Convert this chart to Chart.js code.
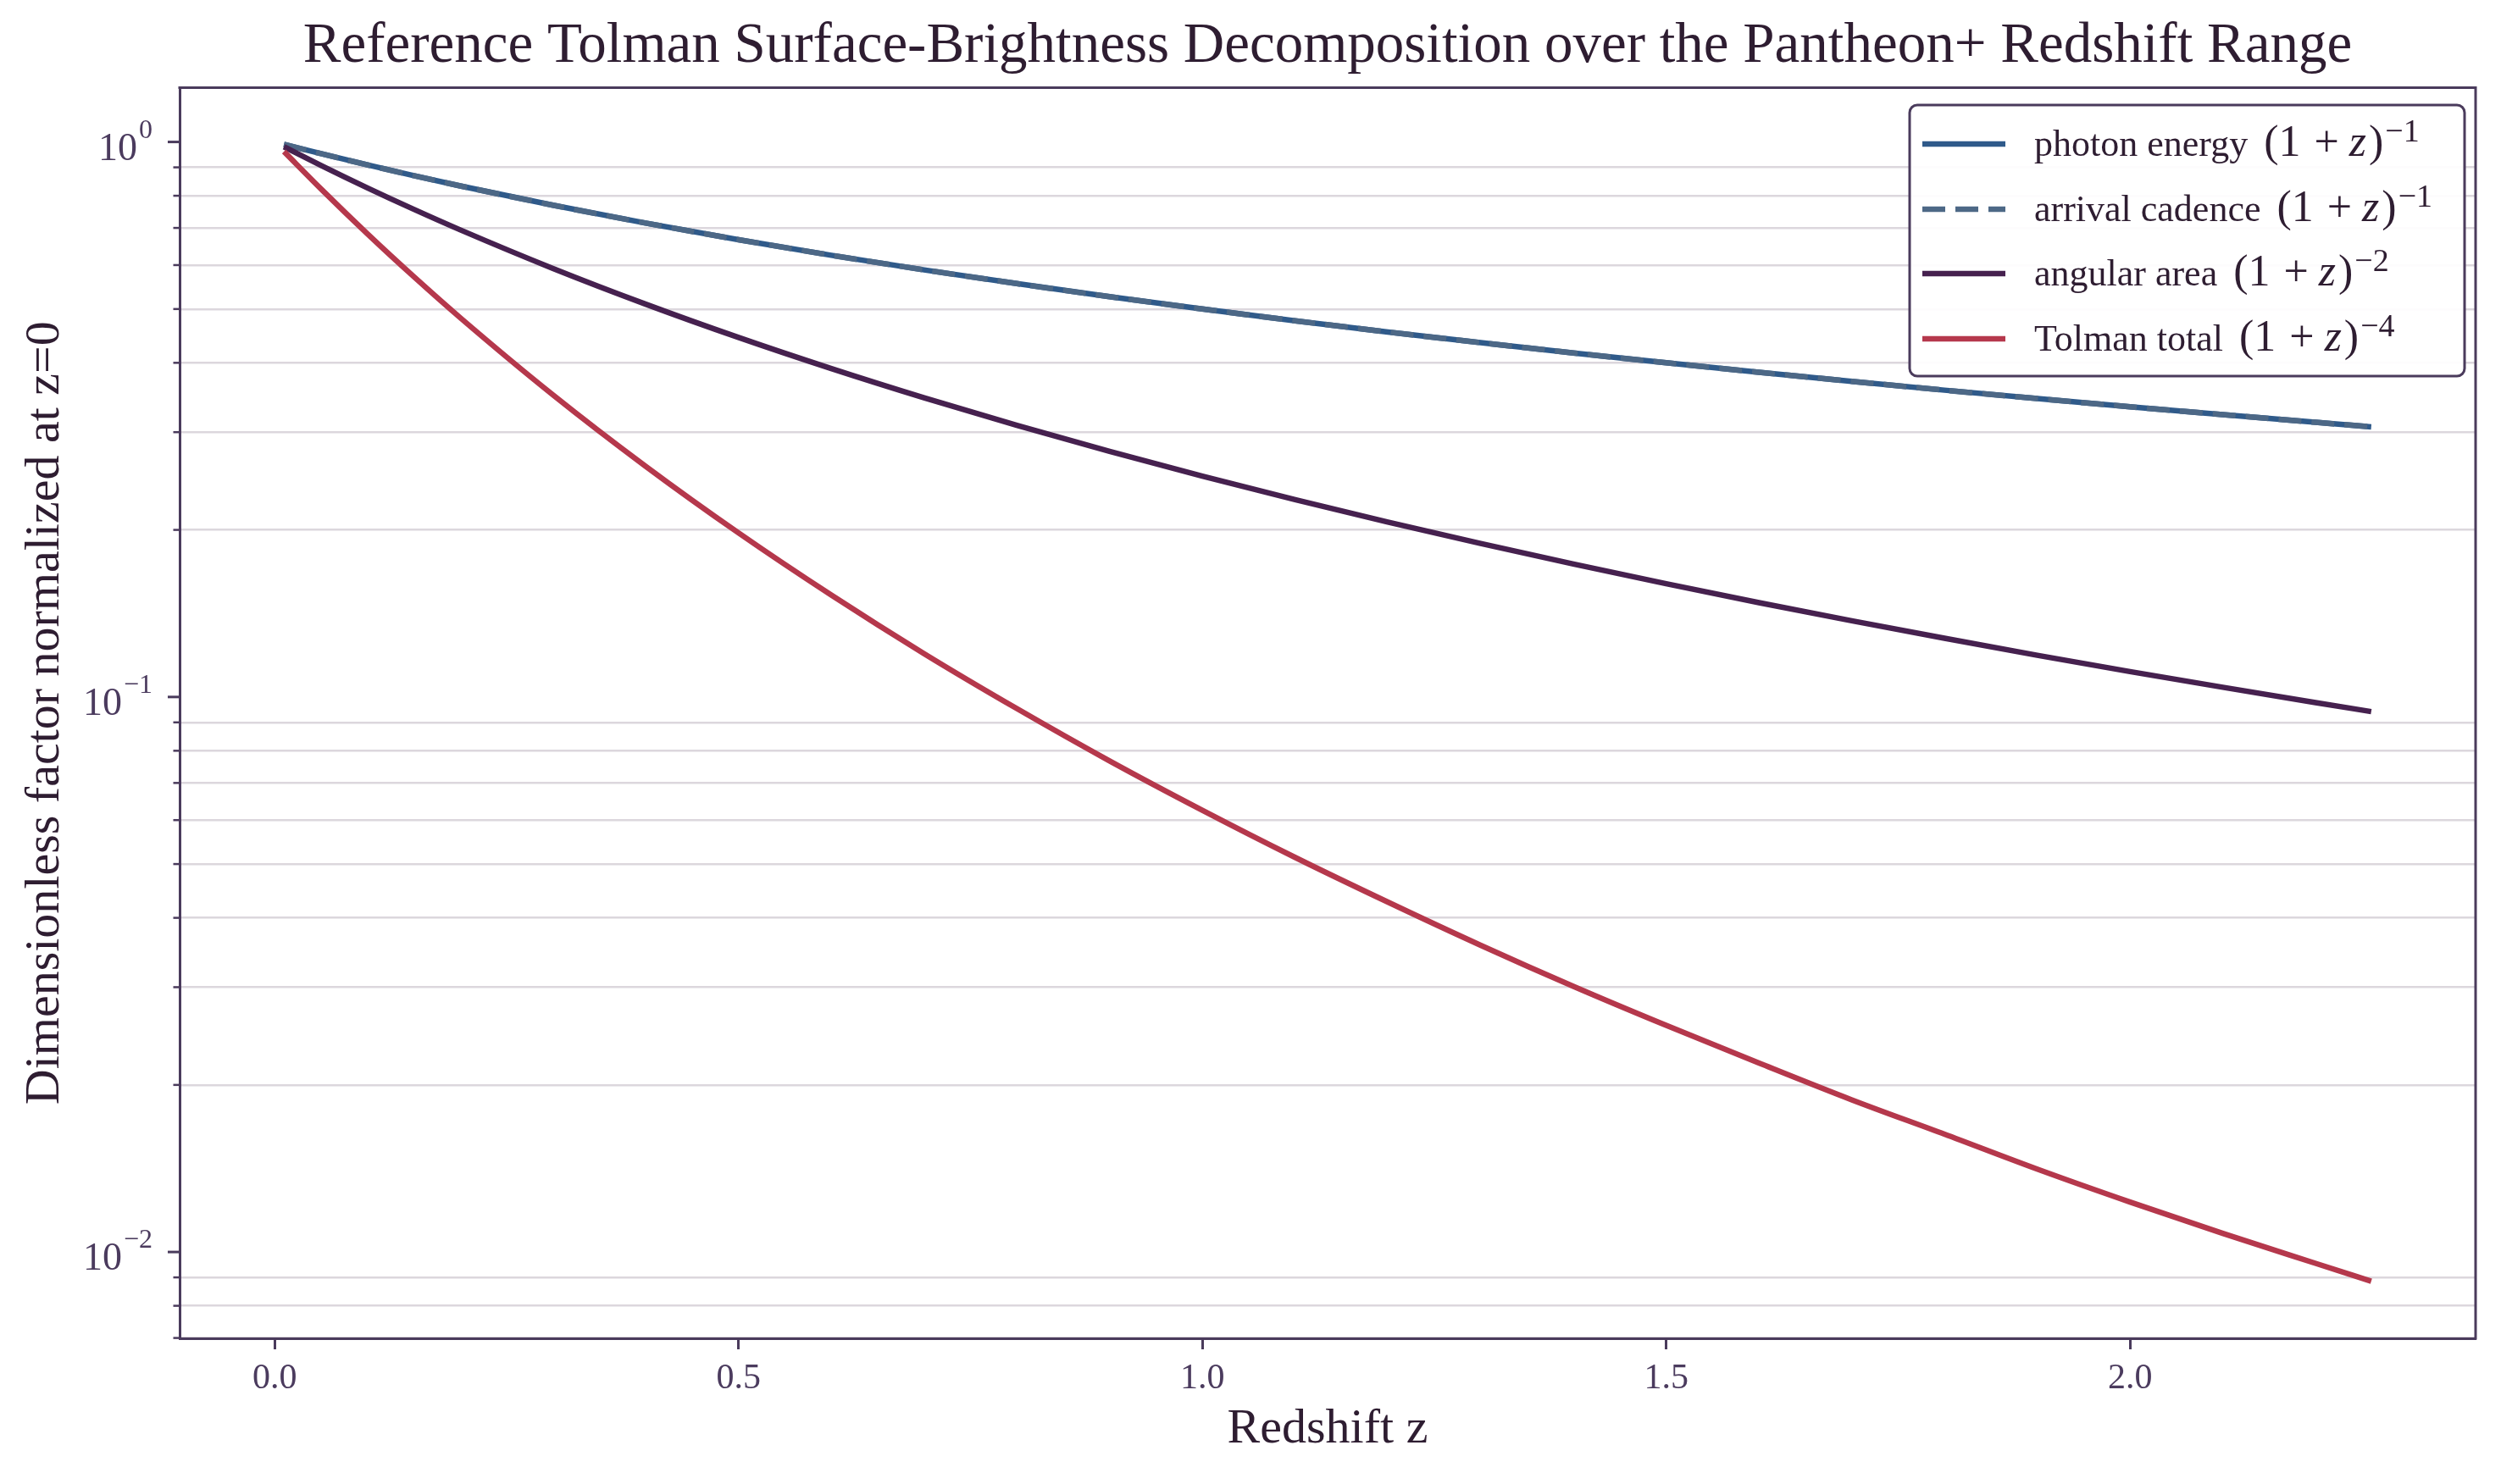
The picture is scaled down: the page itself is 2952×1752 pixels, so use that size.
<!DOCTYPE html>
<html><head><meta charset="utf-8">
<script src="https://cdn.jsdelivr.net/npm/chart.js@4.4.1/dist/chart.umd.min.js"></script>
<style>html,body{margin:0;padding:0;background:#fff;} canvas{display:block;}</style>
</head><body>
<canvas id="c" width="2952" height="1752" style="width:2952px;height:1752px"></canvas>
<script>
// ---- data ----
const redshift = [0.01,0.05,0.1,0.15,0.2,0.3,0.4,0.5,0.6,0.7,0.8,0.9,1.0,1.1,1.2,1.3,1.4,1.5,1.6,1.7,1.8,1.9,2.0,2.1,2.2,2.26];
const photonEnergy = [0.9901,0.9524,0.9091,0.8696,0.8333,0.7692,0.7143,0.6667,0.6250,0.5882,0.5556,0.5263,0.5000,0.4762,0.4545,0.4348,0.4167,0.4000,0.3846,0.3704,0.3571,0.3448,0.3333,0.3226,0.3125,0.3067];
const arrivalCadence = [0.9901,0.9524,0.9091,0.8696,0.8333,0.7692,0.7143,0.6667,0.6250,0.5882,0.5556,0.5263,0.5000,0.4762,0.4545,0.4348,0.4167,0.4000,0.3846,0.3704,0.3571,0.3448,0.3333,0.3226,0.3125,0.3067];
const angularArea = [0.9803,0.9070,0.8264,0.7561,0.6944,0.5917,0.5102,0.4444,0.3906,0.3460,0.3086,0.2770,0.2500,0.2268,0.2066,0.1890,0.1736,0.1600,0.1479,0.1372,0.1276,0.1189,0.1111,0.1041,0.0977,0.0941];
const tolmanTotal = [0.9610,0.8227,0.6830,0.5718,0.4823,0.3501,0.2603,0.1975,0.1526,0.1197,0.0953,0.0767,0.0625,0.0514,0.0427,0.0357,0.0301,0.0256,0.0219,0.0188,0.0163,0.0141,0.0123,0.0108,0.00954,0.00886];

const seriesNames = ['photon energy','arrival cadence','angular area','Tolman total'];
const seriesExponents = ['\u22121','\u22121','\u22122','\u22124'];

const xTickValues = [0,0.5,1,1.5,2];
const xTickLabels = ['0.0','0.5','1.0','1.5','2.0'];
const yTickValues = [0.007,0.008,0.009,0.01,0.02,0.03,0.04,0.05,0.06,0.07,0.08,0.09,0.1,0.2,0.3,0.4,0.5,0.6,0.7,0.8,0.9,1];
const yMajorTicks = [0.01,0.1,1];
const yMajorExponents = ['\u22122','\u22121','0'];

const titleText = 'Reference Tolman Surface-Brightness Decomposition over the Pantheon+ Redshift Range';
const xTitle = 'Redshift z';
const yTitle = 'Dimensionless factor normalized at z=0';

const xRange = [-0.1025, 2.3725];
const yRange = [0.00699, 1.253];

// ---- style ----
const SERIF = "'Liberation Serif','Times New Roman',serif";
const SPINE = '#4a3b5c';
const TICKTXT = '#4b3b5e';
const DARK = '#2e1d31';
const GRID = '#dcd7dd';
const colors = ['#2f5a8a','#4d6886','#46214f','#b5384c'];
const LW = 6.5;

function pts(ys){ return redshift.map((z,i)=>({x:z,y:ys[i]})); }

function drawMath(ctx, x, base, prefix, exp, color){
  ctx.fillStyle = color;
  ctx.textBaseline = 'alphabetic';
  ctx.textAlign = 'left';
  ctx.font = '44px ' + SERIF;
  const pre = prefix + ' ';
  ctx.fillText(pre, x, base); x += ctx.measureText(pre).width + 8;
  const m = '52px ' + SERIF;
  ctx.font = m;
  ctx.fillText('(1', x, base); x += ctx.measureText('(1').width + 16;
  ctx.fillText('+', x, base); x += ctx.measureText('+').width + 12;
  ctx.font = 'italic ' + m;
  ctx.fillText('z', x, base); x += ctx.measureText('z').width + 3;
  ctx.font = m;
  ctx.fillText(')', x, base); x += ctx.measureText(')').width + 2;
  ctx.font = '38px ' + SERIF;
  ctx.fillText(exp, x, base - 17);
}

const decor = {
  id: 'decor',
  afterDraw(chart){
    const {ctx, chartArea: a, scales} = chart;
    const ys = scales.y;
    ctx.save();
    // top & right spines
    ctx.strokeStyle = SPINE; ctx.lineWidth = 3; ctx.lineCap = 'square';
    ctx.beginPath();
    ctx.moveTo(a.left, a.top); ctx.lineTo(a.right, a.top); ctx.lineTo(a.right, a.bottom);
    ctx.stroke();
    ctx.lineCap = 'butt';
    // y ticks
    yTickValues.forEach(v=>{
      const p = ys.getPixelForValue(v);
      const major = yMajorTicks.includes(v);
      ctx.lineWidth = major ? 3 : 2.5;
      ctx.beginPath();
      ctx.moveTo(a.left, p); ctx.lineTo(a.left - (major ? 14 : 7.5), p);
      ctx.stroke();
    });
    // y major labels 10^n
    yMajorTicks.forEach((v,i)=>{
      const p = ys.getPixelForValue(v);
      const exp = yMajorExponents[i];
      ctx.font = '32px ' + SERIF;
      const ew = ctx.measureText(exp).width;
      ctx.font = '46px ' + SERIF;
      const bw = ctx.measureText('10').width;
      const right = a.left - 32;
      ctx.fillStyle = TICKTXT; ctx.textBaseline = 'alphabetic'; ctx.textAlign = 'left';
      ctx.fillText('10', right - ew - bw - 2, p + 21);
      ctx.font = '32px ' + SERIF;
      ctx.fillText(exp, right - ew, p - 5);
    });
    // legend
    const bx = 2254, by = 124, bw = 655, bh = 320;
    ctx.beginPath();
    ctx.roundRect(bx, by, bw, bh, 9);
    ctx.fillStyle = 'rgba(255,255,255,0.92)'; ctx.fill();
    ctx.lineWidth = 3; ctx.strokeStyle = SPINE; ctx.stroke();
    const rows = [170, 247, 323, 400];
    chart.data.datasets.forEach((ds, i)=>{
      const y = rows[i];
      ctx.strokeStyle = ds.borderColor; ctx.lineWidth = LW;
      ctx.setLineDash(ds.borderDash || []);
      ctx.beginPath(); ctx.moveTo(2269, y); ctx.lineTo(2367, y); ctx.stroke();
      ctx.setLineDash([]);
      drawMath(ctx, 2401, y + 14, seriesNames[i], seriesExponents[i], DARK);
    });
    ctx.restore();
  }
};

new Chart(document.getElementById('c'), {
  type: 'line',
  data: {
    datasets: [
      {label: seriesNames[0], data: pts(photonEnergy), borderColor: colors[0], borderWidth: LW, order: 4},
      {label: seriesNames[1], data: pts(arrivalCadence), borderColor: colors[1], borderWidth: LW, borderDash: [27,12], order: 3},
      {label: seriesNames[2], data: pts(angularArea), borderColor: colors[2], borderWidth: LW, order: 2},
      {label: seriesNames[3], data: pts(tolmanTotal), borderColor: colors[3], borderWidth: LW, order: 1}
    ]
  },
  options: {
    responsive: false, animation: false, devicePixelRatio: 1,
    layout: {padding: {left: 0, right: 30, top: 0, bottom: 0}},
    elements: {point: {radius: 0}, line: {cubicInterpolationMode: 'monotone', fill: false}},
    plugins: {
      legend: {display: false}, tooltip: {enabled: false},
      title: {display: true, text: titleText, color: DARK, fullSize: false,
        font: {family: SERIF, size: 67, weight: 'normal', lineHeight: 1.2},
        padding: {top: 15, bottom: 8}}
    },
    scales: {
      x: {
        type: 'linear', min: xRange[0], max: xRange[1],
        afterBuildTicks: s => { s.ticks = xTickValues.map(v=>({value:v})); },
        afterFit: s => { s.height = 172; },
        ticks: {color: TICKTXT, font: {family: SERIF, size: 42}, padding: 10,
          callback: (v) => xTickLabels[xTickValues.indexOf(v)] ?? ''},
        grid: {drawOnChartArea: false, drawTicks: true, tickLength: 13, tickWidth: 3, tickColor: SPINE, color: 'rgba(0,0,0,0)'},
        border: {display: true, color: SPINE, width: 3},
        title: {display: true, text: xTitle, color: DARK, font: {family: SERIF, size: 58, lineHeight: 1.2}, padding: {top: 0, bottom: 29}}
      },
      y: {
        type: 'logarithmic', min: yRange[0], max: yRange[1],
        afterBuildTicks: s => { s.ticks = yTickValues.map(v=>({value:v})); },
        afterFit: s => { s.width = 212; },
        ticks: {display: false},
        grid: {drawTicks: false, lineWidth: 2.5,
          color: c => (c.tick && yMajorTicks.includes(c.tick.value)) ? 'rgba(0,0,0,0)' : GRID},
        border: {display: true, color: SPINE, width: 3},
        title: {display: true, text: yTitle, color: DARK, font: {family: SERIF, size: 58, lineHeight: 1.2}, padding: {top: 19, bottom: 0}}
      }
    }
  },
  plugins: [decor]
});
</script>
</body></html>
